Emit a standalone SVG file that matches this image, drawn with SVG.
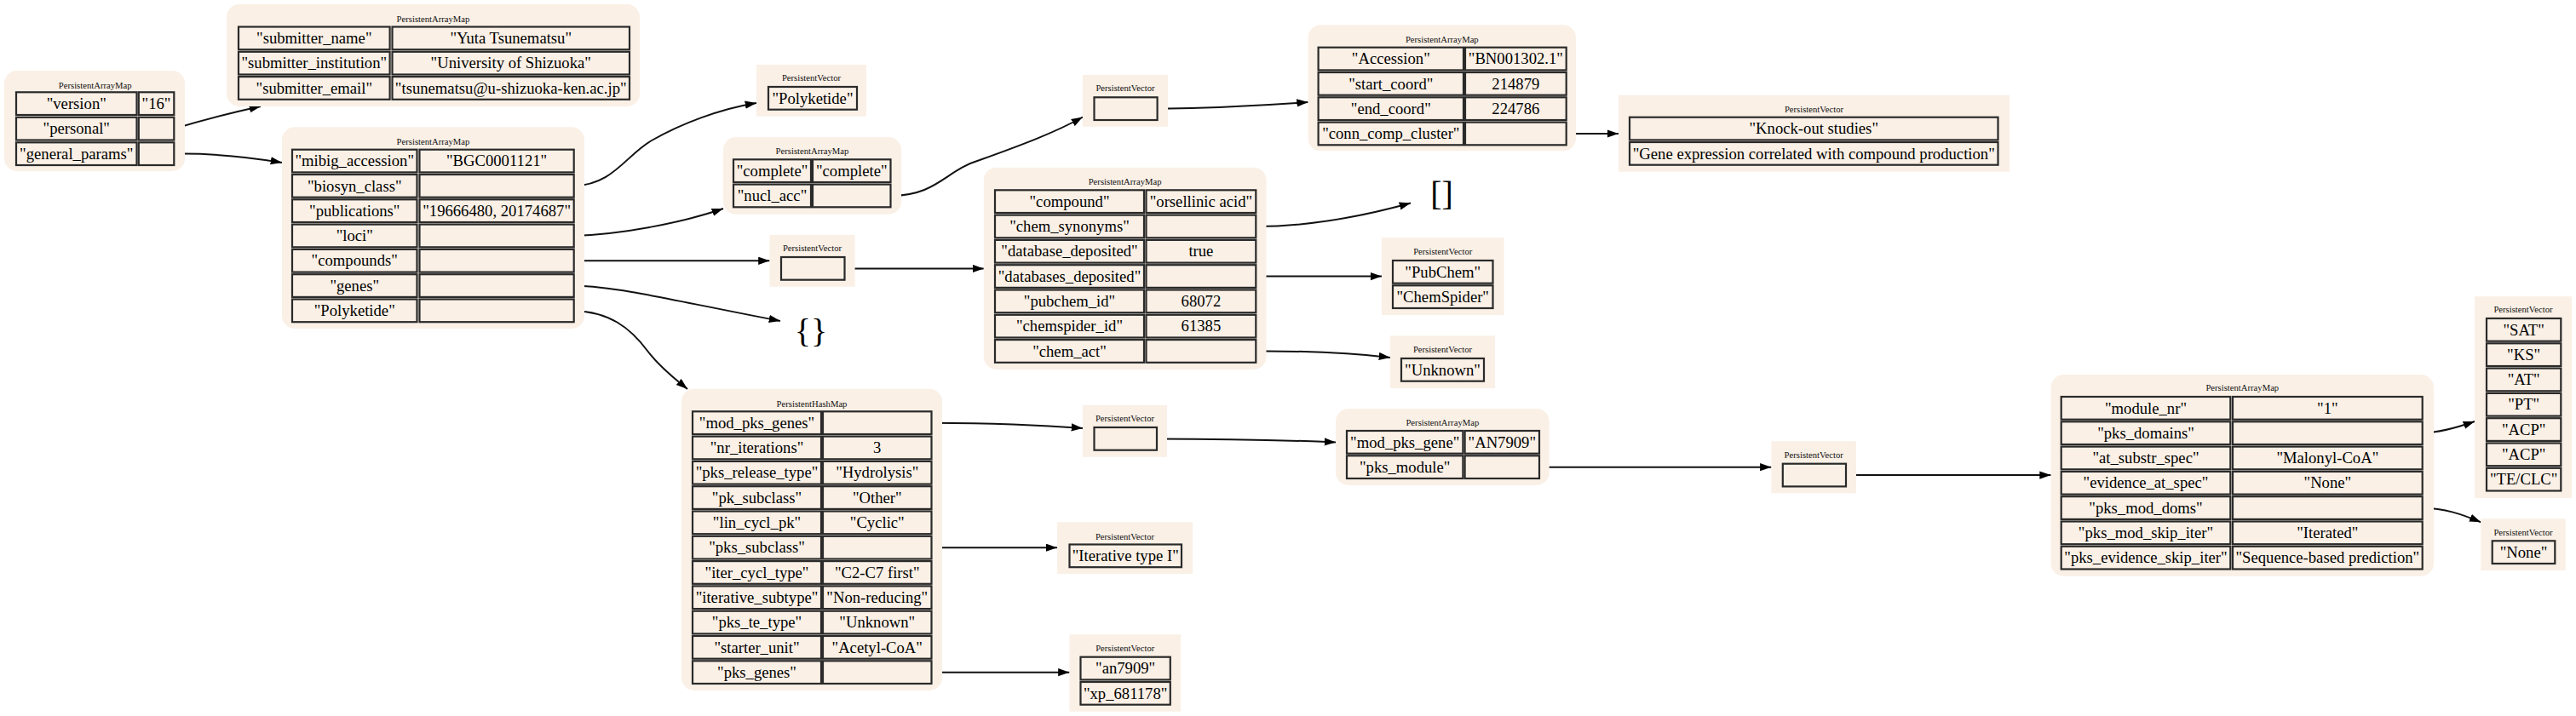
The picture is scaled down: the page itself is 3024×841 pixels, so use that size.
<svg xmlns="http://www.w3.org/2000/svg" width="3024" height="841" viewBox="0 0 3024 841">
<style>
.bg{fill:#faf0e6;stroke:none}
.c{fill:#faf0e6;stroke:#2a2a2a;stroke-width:2.2}
.t{font-family:"Liberation Serif","Times New Roman",serif;font-size:10.67px;fill:#111;text-anchor:middle}
.v{font-family:"Liberation Serif","Times New Roman",serif;font-size:18.67px;fill:#000;text-anchor:middle}
.big{font-family:"Liberation Serif","Times New Roman",serif;font-size:40px;fill:#000;text-anchor:middle}
.e{fill:none;stroke:#111;stroke-width:2;marker-end:url(#ah)}
</style>
<defs>
<marker id="ah" markerWidth="14" markerHeight="10" refX="13.3" refY="4.67" orient="auto" markerUnits="userSpaceOnUse"><path d="M0,0 L13.3,4.67 L0,9.33 z" fill="#000"/></marker>
</defs>
<rect width="3024" height="841" fill="#fff"/>

<g id="connectors">
<path class="e" d="M204.3,151.2 C232,143 268,133 306,125"/>
<path class="e" d="M204.3,180.7 C245,180 290,184 331,191"/>
<path class="e" d="M673.7,218.4 C720,217 735,182 765,165 C800,145 845,128 888,121"/>
<path class="e" d="M673.7,277 C730,275 800,262 849,245"/>
<path class="e" d="M1045.5,230 C1100,230 1110,200 1150,188 C1200,170 1240,155 1271,137.5"/>
<path class="e" d="M1358.6,127.7 C1420,127 1480,124 1535.6,120"/>
<path class="e" d="M1838.7,157 L1900,157"/>
<path class="e" d="M673.7,306.3 L903.5,306.3"/>
<path class="e" d="M991.5,315.4 L1154.8,315.4"/>
<path class="e" d="M673.7,335.6 C730,337 800,355 916,377"/>
<path class="e" d="M673.7,364.9 C715,366 740,385 760,412 C775,432 795,447 807,457"/>
<path class="e" d="M1474.3,266 C1540,266 1600,254 1656,238.5"/>
<path class="e" d="M1474.3,324.6 L1622,324.6"/>
<path class="e" d="M1474.3,412.5 C1540,412 1590,415 1632,420"/>
<path class="e" d="M1093.5,496.7 C1170,497 1220,499 1271,503"/>
<path class="e" d="M1093.5,643.2 L1241,643.2"/>
<path class="e" d="M1093.5,789.7 L1255.5,789.7"/>
<path class="e" d="M1358,515.4 C1450,515.4 1510,517 1568,519.5"/>
<path class="e" d="M1807,548.7 L2079.4,548.7"/>
<path class="e" d="M2167,558.1 L2407.6,558.1"/>
<path class="e" d="M2843.7,508.7 C2865,508 2885,502 2905,495"/>
<path class="e" d="M2843.7,596.6 C2870,597 2890,604 2912.3,613.3"/>
</g>

<g id="n0">
<rect class="bg" x="5" y="83" width="212" height="118" rx="15"/>
<text class="t" x="111.7" y="103.5">PersistentArrayMap</text>
<rect class="c" x="19" y="108.3" width="141.5" height="26.7"/><text class="v" x="89.75" y="127.8">"version"</text>
<rect class="c" x="162.8" y="108.3" width="41.5" height="26.7"/><text class="v" x="183.55" y="127.8">"16"</text>
<rect class="c" x="19" y="137.8" width="141.5" height="26.7"/><text class="v" x="89.75" y="157.3">"personal"</text>
<rect class="c" x="162.8" y="137.8" width="41.5" height="26.7"/>
<rect class="c" x="19" y="167.3" width="141.5" height="26.7"/><text class="v" x="89.75" y="186.8">"general_params"</text>
<rect class="c" x="162.8" y="167.3" width="41.5" height="26.7"/>
</g>

<g id="n1">
<rect class="bg" x="266" y="5" width="485" height="120" rx="15"/>
<text class="t" x="508.5" y="26.2">PersistentArrayMap</text>
<rect class="c" x="280" y="31.5" width="177.6" height="26.7"/><text class="v" x="368.8" y="51">"submitter_name"</text>
<rect class="c" x="460.5" y="31.5" width="278.5" height="26.7"/><text class="v" x="599.75" y="51">"Yuta Tsunematsu"</text>
<rect class="c" x="280" y="60.8" width="177.6" height="26.7"/><text class="v" x="368.8" y="80.3">"submitter_institution"</text>
<rect class="c" x="460.5" y="60.8" width="278.5" height="26.7"/><text class="v" x="599.75" y="80.3">"University of Shizuoka"</text>
<rect class="c" x="280" y="90.1" width="177.6" height="26.7"/><text class="v" x="368.8" y="109.6">"submitter_email"</text>
<rect class="c" x="460.5" y="90.1" width="278.5" height="26.7"/><text class="v" x="599.75" y="109.6">"tsunematsu@u-shizuoka-ken.ac.jp"</text>
</g>

<g id="n2">
<rect class="bg" x="331" y="149.3" width="355" height="236.7" rx="15"/>
<text class="t" x="508.5" y="170.2">PersistentArrayMap</text>
<rect class="c" x="343" y="175.7" width="146.5" height="26.7"/><text class="v" x="416.25" y="195.2">"mibig_accession"</text>
<rect class="c" x="492.5" y="175.7" width="181.2" height="26.7"/><text class="v" x="583.1" y="195.2">"BGC0001121"</text>
<rect class="c" x="343" y="205" width="146.5" height="26.7"/><text class="v" x="416.25" y="224.5">"biosyn_class"</text>
<rect class="c" x="492.5" y="205" width="181.2" height="26.7"/>
<rect class="c" x="343" y="234.3" width="146.5" height="26.7"/><text class="v" x="416.25" y="253.8">"publications"</text>
<rect class="c" x="492.5" y="234.3" width="181.2" height="26.7"/><text class="v" x="583.1" y="253.8">"19666480, 20174687"</text>
<rect class="c" x="343" y="263.6" width="146.5" height="26.7"/><text class="v" x="416.25" y="283.1">"loci"</text>
<rect class="c" x="492.5" y="263.6" width="181.2" height="26.7"/>
<rect class="c" x="343" y="292.9" width="146.5" height="26.7"/><text class="v" x="416.25" y="312.4">"compounds"</text>
<rect class="c" x="492.5" y="292.9" width="181.2" height="26.7"/>
<rect class="c" x="343" y="322.2" width="146.5" height="26.7"/><text class="v" x="416.25" y="341.7">"genes"</text>
<rect class="c" x="492.5" y="322.2" width="181.2" height="26.7"/>
<rect class="c" x="343" y="351.5" width="146.5" height="26.7"/><text class="v" x="416.25" y="371">"Polyketide"</text>
<rect class="c" x="492.5" y="351.5" width="181.2" height="26.7"/>
</g>

<g id="n3">
<rect class="bg" x="888" y="76" width="129" height="60.7"/>
<text class="t" x="952.5" y="95.2">PersistentVector</text>
<rect class="c" x="902" y="102" width="104" height="26.7"/><text class="v" x="954" y="121.5">"Polyketide"</text>
</g>

<g id="n4">
<rect class="bg" x="849" y="161" width="209" height="90.7" rx="15"/>
<text class="t" x="953.5" y="181.2">PersistentArrayMap</text>
<rect class="c" x="861" y="187.3" width="91" height="26.7"/><text class="v" x="906.5" y="206.8">"complete"</text>
<rect class="c" x="954" y="187.3" width="91.5" height="26.7"/><text class="v" x="999.75" y="206.8">"complete"</text>
<rect class="c" x="861" y="216.6" width="91" height="26.7"/><text class="v" x="906.5" y="236.1">"nucl_acc"</text>
<rect class="c" x="954" y="216.6" width="91.5" height="26.7"/>
</g>

<g id="n5">
<rect class="bg" x="1271" y="88" width="100" height="60.7"/>
<text class="t" x="1321" y="107.2">PersistentVector</text>
<rect class="c" x="1284.5" y="114.3" width="74.1" height="26.7"/>
</g>

<g id="n6">
<rect class="bg" x="1535.6" y="29.3" width="314.4" height="148" rx="15"/>
<text class="t" x="1692.8" y="50.2">PersistentArrayMap</text>
<rect class="c" x="1547.6" y="55.7" width="170.4" height="26.7"/><text class="v" x="1632.8" y="75.2">"Accession"</text>
<rect class="c" x="1720" y="55.7" width="118.7" height="26.7"/><text class="v" x="1779.35" y="75.2">"BN001302.1"</text>
<rect class="c" x="1547.6" y="85" width="170.4" height="26.7"/><text class="v" x="1632.8" y="104.5">"start_coord"</text>
<rect class="c" x="1720" y="85" width="118.7" height="26.7"/><text class="v" x="1779.35" y="104.5">214879</text>
<rect class="c" x="1547.6" y="114.3" width="170.4" height="26.7"/><text class="v" x="1632.8" y="133.8">"end_coord"</text>
<rect class="c" x="1720" y="114.3" width="118.7" height="26.7"/><text class="v" x="1779.35" y="133.8">224786</text>
<rect class="c" x="1547.6" y="143.6" width="170.4" height="26.7"/><text class="v" x="1632.8" y="163.1">"conn_comp_cluster"</text>
<rect class="c" x="1720" y="143.6" width="118.7" height="26.7"/>
</g>

<g id="n7">
<rect class="bg" x="1900" y="111.7" width="459" height="90"/>
<text class="t" x="2129.5" y="131.8">PersistentVector</text>
<rect class="c" x="1913" y="137.7" width="432.5" height="26.7"/><text class="v" x="2129.25" y="157.2">"Knock-out studies"</text>
<rect class="c" x="1913" y="167" width="432.5" height="26.7"/><text class="v" x="2129.25" y="186.5">"Gene expression correlated with compound production"</text>
</g>

<g id="n8">
<text class="big" x="1692.5" y="241">[]</text>
</g>

<g id="n9">
<rect class="bg" x="903.5" y="276" width="100.1" height="60.7"/>
<text class="t" x="953.5" y="295.2">PersistentVector</text>
<rect class="c" x="917" y="302" width="74.5" height="26.7"/>
</g>

<g id="n10">
<rect class="bg" x="1154.8" y="196.7" width="331.7" height="237.3" rx="15"/>
<text class="t" x="1320.6" y="216.8">PersistentArrayMap</text>
<rect class="c" x="1168" y="223.3" width="175" height="26.7"/><text class="v" x="1255.5" y="242.8">"compound"</text>
<rect class="c" x="1345.5" y="223.3" width="128.8" height="26.7"/><text class="v" x="1409.9" y="242.8">"orsellinic acid"</text>
<rect class="c" x="1168" y="252.6" width="175" height="26.7"/><text class="v" x="1255.5" y="272.1">"chem_synonyms"</text>
<rect class="c" x="1345.5" y="252.6" width="128.8" height="26.7"/>
<rect class="c" x="1168" y="281.9" width="175" height="26.7"/><text class="v" x="1255.5" y="301.4">"database_deposited"</text>
<rect class="c" x="1345.5" y="281.9" width="128.8" height="26.7"/><text class="v" x="1409.9" y="301.4">true</text>
<rect class="c" x="1168" y="311.2" width="175" height="26.7"/><text class="v" x="1255.5" y="330.7">"databases_deposited"</text>
<rect class="c" x="1345.5" y="311.2" width="128.8" height="26.7"/>
<rect class="c" x="1168" y="340.5" width="175" height="26.7"/><text class="v" x="1255.5" y="360">"pubchem_id"</text>
<rect class="c" x="1345.5" y="340.5" width="128.8" height="26.7"/><text class="v" x="1409.9" y="360">68072</text>
<rect class="c" x="1168" y="369.8" width="175" height="26.7"/><text class="v" x="1255.5" y="389.3">"chemspider_id"</text>
<rect class="c" x="1345.5" y="369.8" width="128.8" height="26.7"/><text class="v" x="1409.9" y="389.3">61385</text>
<rect class="c" x="1168" y="399.1" width="175" height="26.7"/><text class="v" x="1255.5" y="418.6">"chem_act"</text>
<rect class="c" x="1345.5" y="399.1" width="128.8" height="26.7"/>
</g>

<g id="n11">
<rect class="bg" x="1622" y="279.3" width="143.5" height="90.7"/>
<text class="t" x="1693.75" y="299.2">PersistentVector</text>
<rect class="c" x="1635" y="306" width="117.5" height="26.7"/><text class="v" x="1693.75" y="325.5">"PubChem"</text>
<rect class="c" x="1635" y="335.3" width="117.5" height="26.7"/><text class="v" x="1693.75" y="354.8">"ChemSpider"</text>
</g>

<g id="n12">
<rect class="bg" x="1632" y="394.3" width="123" height="61.7"/>
<text class="t" x="1693.5" y="414.2">PersistentVector</text>
<rect class="c" x="1645" y="421" width="97" height="26.7"/><text class="v" x="1693.5" y="440.5">"Unknown"</text>
</g>

<g id="n13">
<text class="big" x="952" y="401.5">{}</text>
</g>

<g id="n14">
<rect class="bg" x="800" y="456.7" width="306" height="354.3" rx="15"/>
<text class="t" x="953" y="477.5">PersistentHashMap</text>
<rect class="c" x="813" y="483.3" width="151" height="26.7"/><text class="v" x="888.5" y="502.8">"mod_pks_genes"</text>
<rect class="c" x="966" y="483.3" width="127.5" height="26.7"/>
<rect class="c" x="813" y="512.6" width="151" height="26.7"/><text class="v" x="888.5" y="532.1">"nr_iterations"</text>
<rect class="c" x="966" y="512.6" width="127.5" height="26.7"/><text class="v" x="1029.75" y="532.1">3</text>
<rect class="c" x="813" y="541.9" width="151" height="26.7"/><text class="v" x="888.5" y="561.4">"pks_release_type"</text>
<rect class="c" x="966" y="541.9" width="127.5" height="26.7"/><text class="v" x="1029.75" y="561.4">"Hydrolysis"</text>
<rect class="c" x="813" y="571.2" width="151" height="26.7"/><text class="v" x="888.5" y="590.7">"pk_subclass"</text>
<rect class="c" x="966" y="571.2" width="127.5" height="26.7"/><text class="v" x="1029.75" y="590.7">"Other"</text>
<rect class="c" x="813" y="600.5" width="151" height="26.7"/><text class="v" x="888.5" y="620">"lin_cycl_pk"</text>
<rect class="c" x="966" y="600.5" width="127.5" height="26.7"/><text class="v" x="1029.75" y="620">"Cyclic"</text>
<rect class="c" x="813" y="629.8" width="151" height="26.7"/><text class="v" x="888.5" y="649.3">"pks_subclass"</text>
<rect class="c" x="966" y="629.8" width="127.5" height="26.7"/>
<rect class="c" x="813" y="659.1" width="151" height="26.7"/><text class="v" x="888.5" y="678.6">"iter_cycl_type"</text>
<rect class="c" x="966" y="659.1" width="127.5" height="26.7"/><text class="v" x="1029.75" y="678.6">"C2-C7 first"</text>
<rect class="c" x="813" y="688.4" width="151" height="26.7"/><text class="v" x="888.5" y="707.9">"iterative_subtype"</text>
<rect class="c" x="966" y="688.4" width="127.5" height="26.7"/><text class="v" x="1029.75" y="707.9">"Non-reducing"</text>
<rect class="c" x="813" y="717.7" width="151" height="26.7"/><text class="v" x="888.5" y="737.2">"pks_te_type"</text>
<rect class="c" x="966" y="717.7" width="127.5" height="26.7"/><text class="v" x="1029.75" y="737.2">"Unknown"</text>
<rect class="c" x="813" y="747" width="151" height="26.7"/><text class="v" x="888.5" y="766.5">"starter_unit"</text>
<rect class="c" x="966" y="747" width="127.5" height="26.7"/><text class="v" x="1029.75" y="766.5">"Acetyl-CoA"</text>
<rect class="c" x="813" y="776.3" width="151" height="26.7"/><text class="v" x="888.5" y="795.8">"pks_genes"</text>
<rect class="c" x="966" y="776.3" width="127.5" height="26.7"/>
</g>

<g id="n15">
<rect class="bg" x="1271" y="476" width="99" height="60.7"/>
<text class="t" x="1320.5" y="495.2">PersistentVector</text>
<rect class="c" x="1284.5" y="502" width="73.5" height="26.7"/>
</g>

<g id="n16">
<rect class="bg" x="1241" y="613.3" width="159" height="60.7"/>
<text class="t" x="1320.5" y="633.5">PersistentVector</text>
<rect class="c" x="1255.5" y="639.5" width="131.5" height="26.7"/><text class="v" x="1321.25" y="659">"Iterative type I"</text>
</g>

<g id="n17">
<rect class="bg" x="1255.5" y="745.3" width="130.5" height="90.4"/>
<text class="t" x="1320.75" y="765.2">PersistentVector</text>
<rect class="c" x="1268.5" y="771.7" width="105.3" height="26.7"/><text class="v" x="1321.15" y="791.2">"an7909"</text>
<rect class="c" x="1268.5" y="801" width="105.3" height="26.7"/><text class="v" x="1321.15" y="820.5">"xp_681178"</text>
</g>

<g id="n18">
<rect class="bg" x="1568" y="480" width="250.7" height="90" rx="15"/>
<text class="t" x="1693.35" y="499.5">PersistentArrayMap</text>
<rect class="c" x="1581" y="506" width="136.4" height="26.7"/><text class="v" x="1649.2" y="525.5">"mod_pks_gene"</text>
<rect class="c" x="1719.6" y="506" width="87.4" height="26.7"/><text class="v" x="1763.3" y="525.5">"AN7909"</text>
<rect class="c" x="1581" y="535.3" width="136.4" height="26.7"/><text class="v" x="1649.2" y="554.8">"pks_module"</text>
<rect class="c" x="1719.6" y="535.3" width="87.4" height="26.7"/>
</g>

<g id="n19">
<rect class="bg" x="2079.4" y="518.3" width="99.6" height="61"/>
<text class="t" x="2129.2" y="538.2">PersistentVector</text>
<rect class="c" x="2092.8" y="544.7" width="74.2" height="26.7"/>
</g>

<g id="n20">
<rect class="bg" x="2407.6" y="440" width="449.4" height="236.7" rx="15"/>
<text class="t" x="2632.3" y="459.2">PersistentArrayMap</text>
<rect class="c" x="2419.7" y="466" width="198.6" height="26.7"/><text class="v" x="2519" y="485.5">"module_nr"</text>
<rect class="c" x="2621" y="466" width="222.7" height="26.7"/><text class="v" x="2732.35" y="485.5">"1"</text>
<rect class="c" x="2419.7" y="495.3" width="198.6" height="26.7"/><text class="v" x="2519" y="514.8">"pks_domains"</text>
<rect class="c" x="2621" y="495.3" width="222.7" height="26.7"/>
<rect class="c" x="2419.7" y="524.6" width="198.6" height="26.7"/><text class="v" x="2519" y="544.1">"at_substr_spec"</text>
<rect class="c" x="2621" y="524.6" width="222.7" height="26.7"/><text class="v" x="2732.35" y="544.1">"Malonyl-CoA"</text>
<rect class="c" x="2419.7" y="553.9" width="198.6" height="26.7"/><text class="v" x="2519" y="573.4">"evidence_at_spec"</text>
<rect class="c" x="2621" y="553.9" width="222.7" height="26.7"/><text class="v" x="2732.35" y="573.4">"None"</text>
<rect class="c" x="2419.7" y="583.2" width="198.6" height="26.7"/><text class="v" x="2519" y="602.7">"pks_mod_doms"</text>
<rect class="c" x="2621" y="583.2" width="222.7" height="26.7"/>
<rect class="c" x="2419.7" y="612.5" width="198.6" height="26.7"/><text class="v" x="2519" y="632">"pks_mod_skip_iter"</text>
<rect class="c" x="2621" y="612.5" width="222.7" height="26.7"/><text class="v" x="2732.35" y="632">"Iterated"</text>
<rect class="c" x="2419.7" y="641.8" width="198.6" height="26.7"/><text class="v" x="2519" y="661.3">"pks_evidence_skip_iter"</text>
<rect class="c" x="2621" y="641.8" width="222.7" height="26.7"/><text class="v" x="2732.35" y="661.3">"Sequence-based prediction"</text>
</g>

<g id="n21">
<rect class="bg" x="2905" y="348.3" width="114" height="236.7"/>
<text class="t" x="2962" y="367.2">PersistentVector</text>
<rect class="c" x="2919" y="374" width="87.3" height="26.7"/><text class="v" x="2962.65" y="393.5">"SAT"</text>
<rect class="c" x="2919" y="403.3" width="87.3" height="26.7"/><text class="v" x="2962.65" y="422.8">"KS"</text>
<rect class="c" x="2919" y="432.6" width="87.3" height="26.7"/><text class="v" x="2962.65" y="452.1">"AT"</text>
<rect class="c" x="2919" y="461.9" width="87.3" height="26.7"/><text class="v" x="2962.65" y="481.4">"PT"</text>
<rect class="c" x="2919" y="491.2" width="87.3" height="26.7"/><text class="v" x="2962.65" y="510.7">"ACP"</text>
<rect class="c" x="2919" y="520.5" width="87.3" height="26.7"/><text class="v" x="2962.65" y="540">"ACP"</text>
<rect class="c" x="2919" y="549.8" width="87.3" height="26.7"/><text class="v" x="2962.65" y="569.3">"TE/CLC"</text>
</g>

<g id="n22">
<rect class="bg" x="2912.3" y="609.3" width="99.4" height="60.7"/>
<text class="t" x="2962" y="629.2">PersistentVector</text>
<rect class="c" x="2925.7" y="635.3" width="73.6" height="26.7"/><text class="v" x="2962.5" y="654.8">"None"</text>
</g>
</svg>
